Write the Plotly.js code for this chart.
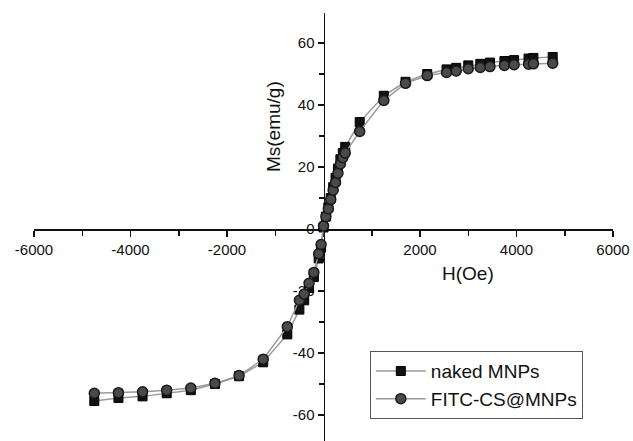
<!DOCTYPE html>
<html>
<head>
<meta charset="utf-8">
<script src="https://cdn.plot.ly/plotly-3.0.1.min.js"></script>
<style>html,body{margin:0;padding:0;background:#fff;}#chart{width:633px;height:441px;}</style>
</head>
<body>
<div id="chart"></div>
<script>
// Field H (Oe) and magnetization Ms (emu/g)
var seriesNames = ["naked MNPs", "FITC-CS@MNPs"];
var hNaked = [-4750, -4250, -3750, -3250, -2750, -2250, -1750, -1250, -750, -500, -400, -300, -200, -100, -50, 0, 50, 100, 150, 200, 250, 300, 350, 400, 450, 750, 1250, 1700, 2150, 2550, 2750, 3000, 3250, 3450, 3750, 3950, 4250, 4350, 4750];
var msNaked = [-55.5, -54.5, -54, -53, -52, -50, -47.5, -43, -34, -26, -23, -19, -15.5, -9.5, -6, 0.5, 4, 7, 10, 13.5, 16.5, 19.5, 22.5, 24.5, 26.5, 34.5, 43, 47.5, 50, 51.5, 52, 52.8, 53.3, 53.7, 54.2, 54.5, 55, 55.2, 55.5];
var hFitc = [-4750, -4250, -3750, -3250, -2750, -2250, -1750, -1250, -750, -500, -400, -300, -200, -100, -50, 0, 50, 100, 150, 200, 250, 300, 350, 400, 450, 750, 1250, 1700, 2150, 2550, 2750, 3000, 3250, 3450, 3750, 3950, 4250, 4350, 4750];
var msFitc = [-53, -52.8, -52.5, -52, -51.3, -49.8, -47.3, -42, -31.5, -23, -21, -17.5, -14, -8, -5, 1, 4, 6.5, 9.5, 12.5, 15, 18, 21, 23, 24.5, 31.5, 41.5, 47, 49.5, 50.5, 51, 51.7, 52.1, 52.4, 52.8, 53, 53.2, 53.3, 53.5];
var xTickVals = [-6000, -4000, -2000, 0, 2000, 4000, 6000];
var xTickText = ["-6000", "-4000", "-2000", "", "2000", "4000", "6000"];
var yTickVals = [-60, -40, -20, 0, 20, 40, 60];
var yTickText = ["-60", "-40", "-20", "0", "20", "40", "60"];
var xTitle = "H(Oe)";
var yTitle = "Ms(emu/g)";

var font = "Liberation Sans, Arial, sans-serif";
var traces = [
  {x: hNaked, y: msNaked, name: seriesNames[0], type: "scatter", mode: "lines+markers",
   line: {color: "#9a9a9a", width: 1.5},
   marker: {symbol: "square", size: 9, color: "#111", line: {color: "#000", width: 1}}},
  {x: hFitc, y: msFitc, name: seriesNames[1], type: "scatter", mode: "lines+markers",
   line: {color: "#9a9a9a", width: 1.5},
   marker: {symbol: "circle", size: 10, color: "#4a4a4a", line: {color: "#1a1a1a", width: 1.5}}}
];
var yRange = [-68.4, 69.7];
var layout = {
  width: 633, height: 441,
  margin: {l: 34, r: 20, t: 13, b: 0, pad: 0},
  paper_bgcolor: "#fff", plot_bgcolor: "#fff",
  font: {family: font, color: "#111"},
  showlegend: true,
  legend: {x: 0.58, xanchor: "left", y: 0.21, yanchor: "top",
    bordercolor: "#555", borderwidth: 1, bgcolor: "#fff",
    font: {family: font, size: 19, color: "#111"}, itemwidth: 50, tracegroupgap: 0},
  xaxis: {range: [-6000, 6000], anchor: "free", position: -yRange[0] / (yRange[1] - yRange[0]),
    showgrid: false, zeroline: false, showline: true, linecolor: "#111", linewidth: 1.5,
    tickmode: "array", tickvals: xTickVals, ticktext: xTickText,
    ticks: "outside", ticklen: 6, tickwidth: 1.5, tickcolor: "#111",
    minor: {dtick: 1000, tick0: 0, ticks: "outside", ticklen: 5, tickwidth: 1.5, tickcolor: "#111", showgrid: false},
    tickfont: {family: font, size: 15, color: "#111"}, layer: "below traces"},
  yaxis: {range: yRange, anchor: "free", position: 0.5,
    showgrid: false, zeroline: false, showline: true, linecolor: "#111", linewidth: 1.5,
    tickmode: "array", tickvals: yTickVals, ticktext: yTickText,
    ticks: "outside", ticklen: 6, tickwidth: 1.5, tickcolor: "#111",
    minor: {dtick: 10, tick0: 0, ticks: "outside", ticklen: 5, tickwidth: 1.5, tickcolor: "#111", showgrid: false},
    tickfont: {family: font, size: 15, color: "#111"}, layer: "below traces"},
  annotations: [
    {text: xTitle, x: 3000, y: -14.2, xref: "x", yref: "y", showarrow: false,
     font: {family: font, size: 19, color: "#111"}},
    {text: yTitle, x: -1040, y: 33, xref: "x", yref: "y", showarrow: false, textangle: -90,
     font: {family: font, size: 19, color: "#111"}}
  ]
};
Plotly.newPlot("chart", traces, layout, {displayModeBar: false, staticPlot: true});
</script>
</body>
</html>
